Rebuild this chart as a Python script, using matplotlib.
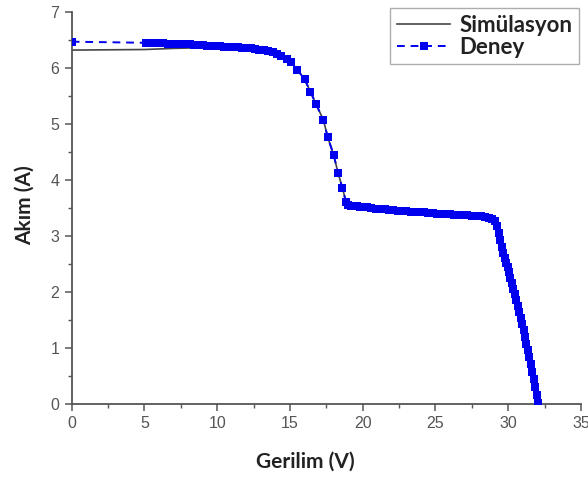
import matplotlib
matplotlib.use("Agg")
import matplotlib.pyplot as plt
from matplotlib.ticker import MultipleLocator

# Experimental data (Deney)
deney_v = [0.0, 5.1, 5.4, 5.7, 6.0, 6.3, 6.6, 6.9, 7.2, 7.5, 7.8, 8.1, 8.4, 8.7, 9.0,
           9.3, 9.6, 9.9, 10.2, 10.5, 10.8, 11.1, 11.4, 11.7, 12.0, 12.3, 12.6, 12.9,
           13.2, 13.5, 13.8, 14.1, 14.4, 14.8, 15.1, 15.5, 16.0, 16.4, 16.8, 17.3,
           17.6, 18.0, 18.3, 18.6, 18.85, 19.0, 19.2, 19.4, 19.6, 19.8, 20.0, 20.3,
           20.6, 20.9, 21.2, 21.5, 21.8, 22.1, 22.4, 22.7, 23.0, 23.3, 23.6, 23.9,
           24.2, 24.5, 24.8, 25.1, 25.4, 25.7, 26.0, 26.3, 26.6, 26.9, 27.2, 27.5,
           27.8, 28.1, 28.4, 28.7, 28.9, 29.1, 29.25, 29.35, 29.45, 29.55, 29.65,
           29.75, 29.85, 29.95, 30.05, 30.15, 30.25, 30.35, 30.45, 30.55, 30.65,
           30.75, 30.85, 30.95, 31.05, 31.15, 31.25, 31.35, 31.45, 31.55, 31.65,
           31.75, 31.85, 31.95, 32.05]
deney_i = [6.47, 6.45, 6.45, 6.44, 6.44, 6.44, 6.43, 6.43, 6.43, 6.42, 6.42, 6.42,
           6.41, 6.41, 6.41, 6.40, 6.40, 6.39, 6.39, 6.38, 6.38, 6.37, 6.37, 6.36,
           6.35, 6.35, 6.34, 6.33, 6.32, 6.30, 6.28, 6.25, 6.21, 6.16, 6.10, 5.97,
           5.80, 5.58, 5.35, 5.07, 4.76, 4.45, 4.13, 3.86, 3.60, 3.55, 3.54, 3.53,
           3.53, 3.52, 3.52, 3.51, 3.50, 3.49, 3.48, 3.48, 3.47, 3.46, 3.45, 3.45,
           3.44, 3.43, 3.43, 3.42, 3.42, 3.41, 3.41, 3.40, 3.40, 3.39, 3.39, 3.38,
           3.38, 3.37, 3.37, 3.36, 3.36, 3.35, 3.34, 3.33, 3.31, 3.26, 3.18, 3.05,
           2.92, 2.80, 2.69, 2.60, 2.52, 2.44, 2.35, 2.25, 2.16, 2.06, 1.96, 1.86,
           1.75, 1.65, 1.54, 1.43, 1.32, 1.20, 1.08, 0.96, 0.84, 0.71, 0.58, 0.44,
           0.30, 0.16, 0.02]

# Simulation data (Simülasyon)
sim_v = [0.0, 5.0, 7.0, 10.0, 12.0, 13.5, 14.5, 15.1, 15.5, 16.0, 16.4, 16.8, 17.3,
         17.6, 18.0, 18.3, 18.6, 18.9, 19.0, 20.0, 22.0, 24.0, 26.0, 28.0, 28.8,
         29.1, 29.4, 29.7, 30.1, 30.5, 31.0, 31.5, 32.0]
sim_i = [6.32, 6.33, 6.35, 6.37, 6.35, 6.30, 6.20, 6.10, 5.97, 5.80, 5.58, 5.35,
         5.07, 4.76, 4.45, 4.13, 3.86, 3.57, 3.53, 3.50, 3.46, 3.42, 3.39, 3.35,
         3.32, 3.26, 3.00, 2.65, 2.33, 1.95, 1.40, 0.72, 0.00]

x_ticks = [0, 5, 10, 15, 20, 25, 30, 35]
y_ticks = [0, 1, 2, 3, 4, 5, 6, 7]

W, H = 588, 479
fig = plt.figure(figsize=(W / 100, H / 100), dpi=100)
x0, x1, ytop, ybot = 71.7, 581, 12, 404
ax = fig.add_axes([x0 / W, (H - ybot) / H, (x1 - x0) / W, (ybot - ytop) / H])

ax.plot(sim_v, sim_i, color="#444444", lw=1.2, label="Simülasyon", zorder=2)
ax.plot(deney_v, deney_i, color="#0000ee", lw=1.4, ls=(0, (4, 3)), marker="s",
        markersize=6.3, markeredgewidth=0, label="Deney", zorder=3)

ax.set_xlim(0, 35)
ax.set_ylim(0, 7)
ax.set_xticks(x_ticks)
ax.set_yticks(y_ticks)
ax.xaxis.set_minor_locator(MultipleLocator(2.5))
ax.yaxis.set_minor_locator(MultipleLocator(0.5))
for s in ["top", "right"]:
    ax.spines[s].set_visible(False)
for s in ["left", "bottom"]:
    ax.spines[s].set_color("#555555")
    ax.spines[s].set_linewidth(1.3)
ax.tick_params(which="major", direction="out", length=5, width=1.1,
               color="#555555", labelcolor="#555555", labelsize=11.5, pad=4)
ax.tick_params(which="minor", direction="out", length=3, width=1.0, color="#555555")
for lab in ax.get_xticklabels() + ax.get_yticklabels():
    lab.set_family("Liberation Sans")

fig.text(305 / W, 1 - 462 / H, "Gerilim (V)", ha="center", va="center",
         fontsize=15, fontweight="bold", family="Lato", color="#222222")
fig.text(25 / W, 1 - 205 / H, "Akım (A)", ha="center", va="center", rotation=90,
         fontsize=15, fontweight="bold", family="Lato", color="#222222")

leg = fig.legend(loc="upper right", bbox_to_anchor=(579 / W, 1 - 8 / H),
                 borderaxespad=0, frameon=True, fancybox=False,
                 prop={"family": "Lato", "weight": "bold", "size": 16},
                 handlelength=2.4, handletextpad=0.4, labelspacing=0.05,
                 borderpad=0.3, edgecolor="#999999")
leg.get_frame().set_linewidth(1.0)
for t in leg.get_texts():
    t.set_color("#222222")

fig.savefig("out.png", dpi=100)
